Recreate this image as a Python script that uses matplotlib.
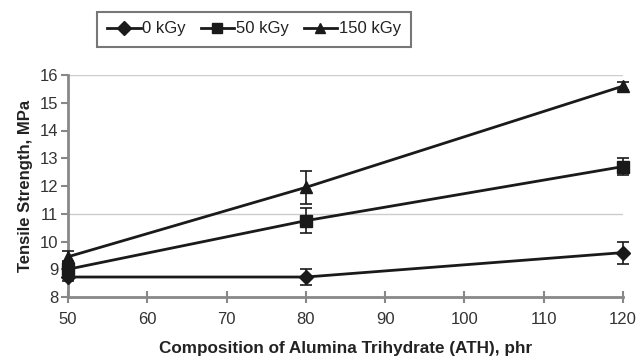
import matplotlib
matplotlib.use("Agg")
import matplotlib.pyplot as plt
from matplotlib.lines import Line2D

x = [50, 80, 120]
labels = ["0 kGy", "50 kGy", "150 kGy"]
y0 = [8.72, 8.72, 9.6]
e0 = [0.15, 0.3, 0.4]
y50 = [9.0, 10.75, 12.7]
e50 = [0.3, 0.45, 0.3]
y150 = [9.45, 11.95, 15.6]
e150 = [0.2, 0.6, 0.15]
markers = ["D", "s", "^"]
xticks = [50, 60, 70, 80, 90, 100, 110, 120]
yticks = [8, 9, 10, 11, 12, 13, 14, 15, 16]

plt.rcParams['font.family'] = ['Liberation Sans', 'DejaVu Sans']
fig = plt.figure(figsize=(6.38, 3.62), dpi=100)
ax = fig.add_axes([68/638, 1-297/362, (623-68)/638, (297-75)/362])

for yv, ev, m, lab in zip([y0, y50, y150], [e0, e50, e150], markers, labels):
    ax.errorbar(x, yv, yerr=ev, color='#1a1a1a', lw=2, marker=m,
                markersize=8.5 if m != 'D' else 7.5, capsize=4, elinewidth=1.2,
                capthick=1.2, label=lab, clip_on=False, zorder=3)

ax.set_xlim(50, 120)
ax.set_ylim(8, 16)
ax.set_xticks(xticks)
ax.set_yticks(yticks)
for g in [11, 16]:
    ax.axhline(g, color='#cccccc', lw=1, zorder=1)
for s in ['top', 'right']:
    ax.spines[s].set_visible(False)
for s in ['left', 'bottom']:
    ax.spines[s].set_color('#888888')
    ax.spines[s].set_linewidth(2)
ax.tick_params(axis='both', colors='#888888', labelcolor='#333333', labelsize=12,
               width=1.5, length=5)
ax.tick_params(axis='x', direction='inout', length=8, pad=7)
ax.tick_params(axis='y', pad=2)
ax.set_xlabel("Composition of Alumina Trihydrate (ATH), phr", fontsize=12.3,
              fontweight='bold', color='#222222', labelpad=10)
ax.set_ylabel("Tensile Strength, MPa", fontsize=12, fontweight='bold',
              color='#222222', labelpad=5)

handles = [Line2D([], [], color='#1a1a1a', lw=2, marker=m, markersize=7) for m in markers]
leg = fig.legend(handles, labels, loc='center', bbox_to_anchor=(254/638, 1-29/362),
                 ncol=3, frameon=True, fancybox=False, edgecolor='#555555',
                 fontsize=12, handlelength=2.0, handletextpad=0.1, columnspacing=0.9,
                 borderpad=0.6)
leg.get_frame().set_linewidth(1.5)
for t in leg.get_texts():
    t.set_color('#222222')

fig.savefig("out.png", dpi=100)
